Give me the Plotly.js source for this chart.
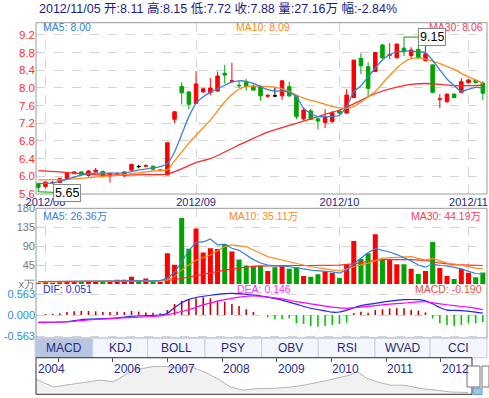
<!DOCTYPE html>
<html><head><meta charset="utf-8">
<script src="https://cdn.plot.ly/plotly-3.0.1.min.js"></script>
<style>html,body{margin:0;padding:0;background:#fff;}#chart{width:489px;height:398px;}</style>
</head><body><div id="chart"></div>
<script>
// ---------- data ----------
const dates = ["2012-07-31",
"2012-08-01","2012-08-02","2012-08-03","2012-08-06","2012-08-07","2012-08-08","2012-08-09","2012-08-10",
"2012-08-15","2012-08-16","2012-08-17","2012-08-20","2012-08-21","2012-08-22","2012-08-23","2012-08-24",
"2012-08-27","2012-08-28","2012-08-29","2012-08-30","2012-08-31",
"2012-09-03","2012-09-04","2012-09-05","2012-09-06","2012-09-07","2012-09-10","2012-09-11","2012-09-12","2012-09-13","2012-09-14",
"2012-09-17","2012-09-18","2012-09-19","2012-09-20","2012-09-21","2012-09-24","2012-09-25","2012-09-26","2012-09-27","2012-09-28",
"2012-10-08","2012-10-09","2012-10-10","2012-10-11","2012-10-12","2012-10-15","2012-10-16","2012-10-17","2012-10-18","2012-10-19",
"2012-10-22","2012-10-23","2012-10-24","2012-10-25","2012-10-26","2012-10-29","2012-10-30","2012-10-31",
"2012-11-01","2012-11-02","2012-11-05"];
const openP  = [5.84,5.77,5.85,5.86,5.95,6.06,6.10,6.02,6.10,6.11,6.01,6.04,6.01,6.14,6.22,6.23,6.23,6.13,6.03,7.29,8.03,7.91,7.65,7.91,7.89,7.93,8.33,8.15,8.06,8.13,8.04,8.03,7.81,7.82,7.82,8.03,7.83,7.30,7.48,7.30,7.22,7.24,7.48,7.43,7.78,8.67,8.48,8.37,8.97,8.74,8.68,8.90,8.73,8.87,8.62,8.52,7.74,7.69,7.86,7.90,8.12,8.17,8.11];
const highP  = [5.85,5.88,5.90,5.97,6.08,6.11,6.12,6.14,6.19,6.13,6.08,6.09,6.12,6.29,6.26,6.27,6.24,6.16,6.76,7.47,8.13,7.93,8.38,8.00,8.22,8.37,8.52,8.57,8.15,8.20,8.08,8.06,7.86,8.01,8.17,8.14,7.84,7.55,7.52,7.32,7.52,7.48,7.51,7.97,8.63,8.78,8.58,8.80,8.99,9.01,9.01,9.15,8.92,8.97,8.97,8.53,7.86,7.87,7.88,8.22,8.20,8.18,8.15];
const lowP   = [5.65,5.73,5.82,5.85,5.94,6.05,6.02,5.99,6.08,5.98,5.86,6.02,5.98,6.13,6.18,6.22,6.15,6.11,6.02,7.20,7.63,7.52,7.64,7.88,7.84,7.92,8.10,8.14,8.00,7.94,7.95,7.71,7.78,7.79,7.73,7.80,7.29,7.26,7.28,7.06,7.09,7.21,7.40,7.42,7.77,8.31,7.78,8.36,8.66,8.65,8.67,8.72,8.66,8.65,8.60,7.88,7.54,7.66,7.77,7.89,8.10,8.10,7.72];
const closeP = [5.75,5.87,5.86,5.95,6.07,6.10,6.04,6.12,6.14,5.99,6.07,6.05,6.10,6.27,6.22,6.24,6.16,6.14,6.76,7.46,7.89,7.63,8.09,7.98,8.00,8.27,8.29,8.16,8.05,8.03,7.95,7.82,7.83,7.82,8.16,7.82,7.35,7.50,7.29,7.25,7.33,7.44,7.43,7.84,8.63,8.50,7.99,8.80,8.68,8.75,8.99,8.82,8.86,8.68,8.77,7.90,7.75,7.86,7.78,8.14,8.18,8.12,7.88];
const volume = [3,4,3,4,5,7,7,7,5,6,5,10,10,17,8,13,6,5,73,46,157,84,132,75,85,83,95,77,58,44,42,44,31,40,42,36,40,19,17,23,29,26,14,46,102,60,73,118,58,58,47,47,36,24,31,100,38,19,12,36,27,16,27.16];

const ma5Idx = [0,2,4,6,8,10,12,14,16,17,18,19,20,21,22,23,24,25,26,27,28,29,30,31,32,33,34,35,36,37,38,39,40,41,42,43,44,45,46,47,48,49,50,51,52,53,54,55,56,57,58,59,60,61,62];
const ma5Val = [5.84,5.85,5.93,6.03,6.07,6.07,6.08,6.14,6.19,6.22,6.29,6.55,6.95,7.35,7.65,7.80,7.90,7.98,8.06,8.13,8.16,8.15,8.10,8.03,7.96,7.93,7.93,7.90,7.80,7.54,7.42,7.35,7.35,7.35,7.38,7.58,7.91,8.05,8.25,8.45,8.63,8.75,8.82,8.83,8.83,8.82,8.80,8.62,8.41,8.20,8.05,7.92,7.97,8.01,8.00];
const ma10Idx = [0,4,8,12,16,18,19,20,21,22,23,24,25,26,27,28,29,30,31,32,33,34,35,36,37,38,39,40,41,42,43,44,45,46,47,48,49,50,51,52,53,54,55,56,57,58,59,60,61,62];
const ma10Val = [5.92,5.93,5.98,6.04,6.12,6.15,6.35,6.55,6.75,6.93,7.10,7.27,7.48,7.68,7.85,7.97,8.03,8.04,8.04,8.03,8.02,7.98,7.92,7.84,7.77,7.72,7.68,7.63,7.58,7.55,7.54,7.58,7.68,7.80,7.92,8.10,8.28,8.45,8.58,8.66,8.68,8.65,8.60,8.55,8.48,8.42,8.33,8.25,8.18,8.10];
const ma30Idx = [0,3,6,9,12,15,18,20,22,24,26,28,30,32,34,36,38,40,42,44,46,48,50,52,54,56,58,60,62];
const ma30Val = [6.13,6.10,6.06,6.03,6.03,6.04,6.05,6.17,6.31,6.40,6.55,6.71,6.86,7.00,7.10,7.20,7.30,7.40,7.50,7.64,7.80,7.93,8.02,8.08,8.10,8.08,8.05,8.05,8.06];

const vma5Idx = [0,4,8,12,16,17,18,19,20,21,22,23,24,25,26,27,28,29,30,31,32,33,34,35,36,37,38,39,40,41,42,43,44,45,46,47,48,49,50,51,52,53,54,55,56,57,58,59,60,61,62];
const vma5Val = [6,6.5,7.5,8,8,8,14,28,53,80,99,100,107,93,95,85,80,69,58,50,45,43,43,41,39,36,33,32,31,29,26,33,48,62,75,84,80,76,70,63,55,45,40,48,44,43,40,36,30,25,24];
const vma10Idx = [0,6,12,17,18,19,20,22,24,26,27,28,29,30,32,34,36,38,40,42,44,46,48,50,52,54,55,57,59,61,62];
const vma10Val = [5,6,7,8,10,17.6,33.5,57,69,89,93,91,89,81,65,57,49.5,41,36,31,41,49.5,61.5,63,65,57,61,49.5,45,37.6,36];
const vma30Idx = [0,5,10,15,18,20,22,24,26,28,30,32,34,36,38,40,42,44,46,48,50,52,54,56,58,60,62];
const vma30Val = [6,6,6.5,7,8,13,20,27,33,38,42,43,44,44,44,44,45,48,54,58,58,58,56,50,46,45,44];

const difIdx = [0,4,6,10,14,17,18,19,20,21,22,24,26,28,30,32,34,36,38,40,41,42,43,45,47,49,51,53,54,55,56,57,59,61,62];
const difVal = [-0.196,-0.18,-0.12,-0.09,-0.02,0.0,0.045,0.2,0.33,0.42,0.47,0.53,0.575,0.575,0.536,0.48,0.40,0.29,0.18,0.11,0.075,0.08,0.13,0.25,0.31,0.37,0.41,0.41,0.38,0.30,0.20,0.13,0.12,0.08,0.051];
const deaIdx = [0,4,8,13,17,19,21,23,26,28,30,32,34,36,38,40,42,43,45,47,49,51,53,54,56,58,60,62];
const deaVal = [-0.196,-0.18,-0.12,-0.065,-0.027,0.05,0.14,0.27,0.41,0.48,0.51,0.48,0.43,0.36,0.30,0.24,0.19,0.18,0.21,0.25,0.29,0.32,0.35,0.355,0.30,0.25,0.21,0.146];
const macdHist = [0,0.027,0.03,0.045,0.08,0.10,0.107,0.107,0.10,0.08,0.08,0.09,0.08,0.107,0.09,0.07,0.06,0.045,0.134,0.295,0.384,0.42,0.447,0.473,0.447,0.384,0.357,0.295,0.241,0.152,0.08,0.0,-0.0625,-0.116,-0.116,-0.09,-0.223,-0.241,-0.295,-0.313,-0.295,-0.268,-0.241,-0.205,0.045,0.09,0.0625,0.134,0.152,0.179,0.179,0.179,0.134,0.116,0.071,-0.09,-0.223,-0.268,-0.295,-0.268,-0.223,-0.223,-0.19];

const monthTickIdx = [1,22,42,60];
const monthTickText = ["2012/08","2012/09","2012/10","2012/11"];
const tabNames = ["MACD","KDJ","BOLL","PSY","OBV","RSI","WVAD","CCI"];

// navigator history (year position, relative level)
const navX = [2004.01,2004.26,2004.55,2004.92,2005.16,2005.41,2005.77,2006.01,2006.39,2006.75,2006.99,2007.24,2007.42,2007.66,2007.91,2008.15,2008.40,2008.64,2008.89,2009.25,2009.50,2009.80,2010.11,2010.35,2010.47,2010.65,2010.84,2011.08,2011.33,2011.63,2011.94,2012.18,2012.50];
const navY = [71,57.5,43.5,20,25,29.6,38.9,34,66.7,75.9,75.9,71,75.9,62,43.5,20,11,15.7,15.7,20,25,34,43.5,52.8,62,43.5,34,25,25,15.7,11,6.4,5];
const navYears = ["2004","2006","2007","2008","2009","2010","2011","2012"];
const navYearPos = [2004.61,2006,2007,2008,2009,2010,2011,2012];

// ---------- helpers ----------
const W = 489, H = 398;
const px = v => v / W;
const py = v => 1 - v / H;
const pick = (idx) => idx.map(i => dates[i]);
const RED = "#ff0000", GREEN = "#00a400";
const C5 = "#3a80d6", C10 = "#ff8a1c", C30 = "#ff2a2a";

const isDoji = dates.map((d,i)=>openP[i]===closeP[i]);
function sub(arr, keep){ return arr.filter((v,i)=>keep(i)); }

const traces = [];
// candles
traces.push({type:"candlestick", x: sub(dates,i=>!isDoji[i]), open: sub(openP,i=>!isDoji[i]), high: sub(highP,i=>!isDoji[i]), low: sub(lowP,i=>!isDoji[i]), close: sub(closeP,i=>!isDoji[i]),
  increasing:{line:{color:RED,width:1},fillcolor:RED}, decreasing:{line:{color:GREEN,width:1},fillcolor:GREEN},
  xaxis:"x", yaxis:"y", hoverinfo:"skip", showlegend:false});
traces.push({type:"candlestick", x: sub(dates,i=>isDoji[i]), open: sub(openP,i=>isDoji[i]), high: sub(highP,i=>isDoji[i]), low: sub(lowP,i=>isDoji[i]), close: sub(closeP,i=>isDoji[i]),
  increasing:{line:{color:"#000",width:1},fillcolor:"#000"}, decreasing:{line:{color:"#000",width:1},fillcolor:"#000"},
  xaxis:"x", yaxis:"y", hoverinfo:"skip", showlegend:false});
// price MAs
[[ma30Idx,ma30Val,C30],[ma10Idx,ma10Val,C10],[ma5Idx,ma5Val,C5]].forEach(([ix,v,c])=>{
  traces.push({type:"scatter",mode:"lines",x:pick(ix),y:v,line:{color:c,width:1.3,shape:"spline",smoothing:0.6},xaxis:"x",yaxis:"y",hoverinfo:"skip",showlegend:false});
});
// volume
traces.push({type:"bar", x:dates, y:volume, marker:{color: dates.map((d,i)=> closeP[i]>openP[i]?RED:GREEN), line:{width:0}},
  xaxis:"x2", yaxis:"y2", hoverinfo:"skip", showlegend:false});
[[vma30Idx,vma30Val,C30],[vma10Idx,vma10Val,C10],[vma5Idx,vma5Val,C5]].forEach(([ix,v,c])=>{
  traces.push({type:"scatter",mode:"lines",x:pick(ix),y:v,line:{color:c,width:1.2},xaxis:"x2",yaxis:"y2",hoverinfo:"skip",showlegend:false});
});
// MACD
traces.push({type:"bar", x:dates, y:macdHist, width:0.22, marker:{color: macdHist.map(v=> v>=0?"#c80000":"#00c800"), line:{width:0}},
  xaxis:"x3", yaxis:"y3", hoverinfo:"skip", showlegend:false});
traces.push({type:"scatter",mode:"lines",x:pick(difIdx),y:difVal,line:{color:"#1f1fff",width:1.2,shape:"spline",smoothing:0.6},xaxis:"x3",yaxis:"y3",hoverinfo:"skip",showlegend:false});
traces.push({type:"scatter",mode:"lines",x:pick(deaIdx),y:deaVal,line:{color:"#ff00ff",width:1.2,shape:"spline",smoothing:0.6},xaxis:"x3",yaxis:"y3",hoverinfo:"skip",showlegend:false});
// navigator
traces.push({type:"scatter",mode:"lines",x:navX,y:navY,fill:"tozeroy",fillcolor:"#f1f1f1",line:{color:"#b4b4b4",width:1},xaxis:"x4",yaxis:"y4",hoverinfo:"skip",showlegend:false});

const xDom = [px(36), px(487)];
const tickFont = {family:"Liberation Sans, Arial, sans-serif", size:11};
const grid = {showgrid:true, gridcolor:"#d4d4d4", griddash:"dash", gridwidth:1};

const layout = {
  width:W, height:H, margin:{l:0,r:0,t:0,b:0}, paper_bgcolor:"#fff", plot_bgcolor:"#fff",
  showlegend:false, boxgap:0.3, bargap:0.3, hovermode:false,
  font:{family:"Liberation Sans, Arial, Noto Sans CJK SC, sans-serif"},
  xaxis:Object.assign({type:"category", categoryorder:"array", categoryarray:dates, domain:xDom, anchor:"y",
    range:[-0.32,62.58], tickvals:monthTickIdx.map(i=>dates[i]), ticktext:monthTickText, ticks:"",
    tickfont:Object.assign({},tickFont,{color:"#1c2a80"}), showline:false, zeroline:false,
    rangeslider:{visible:false}, fixedrange:true}, grid),
  yaxis:Object.assign({domain:[py(194),py(22.7)], range:[5.6,9.475], tick0:5.6, dtick:0.4, tickformat:".1f",
    ticks:"", tickfont:Object.assign({},tickFont,{size:11.5,color:"#ff2f2f"}), showline:false, zeroline:false, anchor:"x"}, grid),
  xaxis2:Object.assign({type:"category", matches:"x", domain:xDom, anchor:"y2", tickvals:monthTickIdx.map(i=>dates[i]),
    showticklabels:false, ticks:"", showline:false, zeroline:false}, grid),
  yaxis2:Object.assign({domain:[py(284),py(208.3)], range:[0,180], tickvals:[0,45,90,135,180], ticktext:["x万","45","90","135","180"],
    ticks:"", tickfont:Object.assign({},tickFont,{color:"#777"}), showline:false, zeroline:false, anchor:"x2"}, grid),
  xaxis3:{type:"category", matches:"x", domain:xDom, anchor:"y3", showticklabels:false, ticks:"", showgrid:false, showline:false, zeroline:false},
  yaxis3:Object.assign({domain:[py(338),py(284)], range:[-0.616,0.831], tickvals:[-0.563,0,0.563], ticktext:["-0.563","0.000","0.563"],
    ticks:"", tickfont:Object.assign({},tickFont,{color:"#2e8de0"}), showline:false, zeroline:false, anchor:"x3"}, grid),
  xaxis4:{domain:[px(36),px(472)], range:[2004.597,2012.572], anchor:"y4", tickvals:[2005,2006,2007,2008,2009,2010,2011,2012],
    showticklabels:false, ticks:"inside", ticklen:4, tickcolor:"#555", side:"top", showgrid:false, showline:false, zeroline:false},
  yaxis4:{domain:[py(394.3),py(357.7)], range:[0,100], showticklabels:false, showgrid:false, zeroline:false, showline:false, anchor:"x4"},
  shapes:[], annotations:[]
};

const S = layout.shapes, A = layout.annotations;
// panel borders
S.push({type:"rect",xref:"paper",yref:"paper",x0:px(36),x1:px(487),y0:py(194),y1:py(22.7),line:{color:"#9a9a9a",width:1}});
S.push({type:"rect",xref:"paper",yref:"paper",x0:px(36),x1:px(487),y0:py(338),y1:py(208.3),line:{color:"#9a9a9a",width:1}});
// tabs
const tabEdges = [35,92.7,147.7,205,261.7,318.3,375,430,487];
tabNames.forEach((t,k)=>{
  S.push({type:"rect",xref:"paper",yref:"paper",x0:px(tabEdges[k]),x1:px(tabEdges[k+1]),y0:py(357.7),y1:py(338.3),
    fillcolor: k===0?"#b7c7e3":"#f3f6fc", line:{color:"#c6d0e4",width:1}});
  A.push({xref:"paper",yref:"paper",x:px((tabEdges[k]+tabEdges[k+1])/2),y:py(348),text:t,showarrow:false,
    font:{size:12,color:"#1e2a78",family:"Liberation Sans, Arial, sans-serif"},xanchor:"center",yanchor:"middle"});
});
// navigator frame
S.push({type:"rect",xref:"paper",yref:"paper",x0:px(36),x1:px(472),y0:py(394.3),y1:py(357.7),line:{color:"#333",width:1}});
navYears.forEach((t,k)=>{
  A.push({xref:"x4",yref:"paper",x:navYearPos[k],y:py(368.5),text:t,showarrow:false,xanchor:"left",yanchor:"middle",xshift:-1,
    font:{size:12,color:"#2a2a8a",family:"Liberation Sans, Arial, sans-serif"}});
});
// scroll handles
S.push({type:"rect",xref:"paper",yref:"paper",x0:px(473),x1:px(482),y0:py(394.5),y1:py(388),fillcolor:"#9cc4e6",line:{color:"#6a9cc8",width:1}});
S.push({type:"rect",xref:"paper",yref:"paper",x0:px(467),x1:px(480),y0:py(387),y1:py(366),fillcolor:"#fff",line:{color:"#777",width:1}});
S.push({type:"rect",xref:"paper",yref:"paper",x0:px(482),x1:px(489),y0:py(387),y1:py(366),fillcolor:"#fff",line:{color:"#777",width:1}});

// panel labels
const lf = (c)=>({size:10.5,color:c,family:"Liberation Sans, Arial, Noto Sans CJK SC, sans-serif"});
function lab(x,y,t,c,anchor){A.push({xref:"paper",yref:"paper",x:px(x),y:py(y),text:t,showarrow:false,xanchor:anchor,yanchor:"middle",font:lf(c)});}
lab(41,27,"MA5: 8.00",C5,"left"); lab(234,27,"MA10: 8.09",C10,"left"); lab(485,27,"MA30: 8.06","#ff3a5c","right");
lab(41,215.5,"MA5: 26.36万",C5,"left"); lab(227,215.5,"MA10: 35.11万",C10,"left"); lab(483,215.5,"MA30: 44.19万","#ff3a5c","right");
lab(41,288.5,"DIF: 0.051","#2a2ad8","left"); lab(235,288.5,"DEA: 0.146","#ff30ff","left"); lab(484,288.5,"MACD: -0.190","#e8503a","right");

// title
A.push({xref:"paper",yref:"paper",x:px(37),y:py(8.5),text:"2012/11/05 开:8.11 高:8.15 低:7.72 收:7.88 量:27.16万 幅:-2.84%",
  showarrow:false,xanchor:"left",yanchor:"middle",font:{size:12.5,color:"#1c1c84",family:"Liberation Sans, Arial, Noto Sans CJK SC, sans-serif"}});

// high / low markers
const hiI = highP.indexOf(Math.max(...highP)), loI = lowP.indexOf(Math.min(...lowP));
A.push({xref:"x",yref:"y",x:dates[hiI],y:highP[hiI],text:highP[hiI].toFixed(2),showarrow:true,arrowhead:0,arrowwidth:1,arrowcolor:GREEN,
  ax:28,ay:0,bgcolor:"#fff",bordercolor:"#888",borderwidth:1,borderpad:1,font:{size:12.5,color:"#000",family:"Liberation Sans, Arial, sans-serif"}});
A.push({xref:"x",yref:"y",x:dates[loI],y:lowP[loI],text:lowP[loI].toFixed(2),showarrow:true,arrowhead:0,arrowwidth:1,arrowcolor:GREEN,
  ax:29,ay:1,bgcolor:"#fff",bordercolor:"#888",borderwidth:1,borderpad:1,font:{size:12.5,color:"#000",family:"Liberation Sans, Arial, sans-serif"}});

Plotly.newPlot("chart", traces, layout, {staticPlot:true, displayModeBar:false});
</script></body></html>
